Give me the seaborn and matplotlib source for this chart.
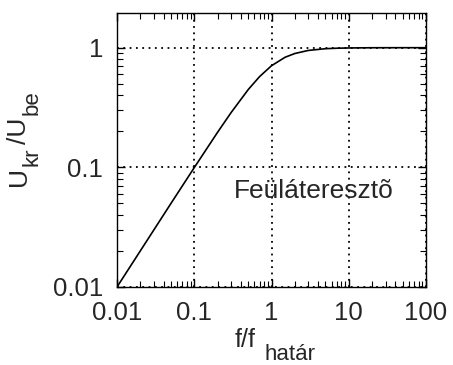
import pandas as pd
import matplotlib.pyplot as plt
import seaborn as sns
from matplotlib.ticker import LogLocator, NullFormatter, FixedLocator, FixedFormatter

sns.set_style("ticks")
plt.rcParams['font.family'] = ['Liberation Sans', 'DejaVu Sans']

# curve (f/f_hatar vs Uki/Ube)
freq_ratio = [0.01, 0.02, 0.05, 0.1, 0.2, 0.3, 0.5, 0.7, 1.0, 1.5, 2.0, 3.0, 5.0, 7.0, 10.0, 20.0, 50.0, 100.0]
gain = [0.01, 0.02, 0.05, 0.0995, 0.196, 0.287, 0.447, 0.573, 0.707, 0.832, 0.894, 0.949, 0.981, 0.99, 0.995, 0.999, 1.0, 1.0]

x_ticks = [0.01, 0.1, 1, 10, 100]
x_tick_labels = ['0.01', '0.1', '1', '10', '100']
y_ticks = [0.01, 0.1, 1]
y_tick_labels = ['0.01', '0.1', '1']

df = pd.DataFrame({'f': freq_ratio, 'U': gain})

W, H = 453, 365


def px(x, y):
    # pixel position -> figure fraction
    return x / W, 1 - y / H


fig, ax = plt.subplots(figsize=(4.53, 3.65), dpi=100)
fig.subplots_adjust(left=117 / W, right=426 / W, top=1 - 13 / H, bottom=1 - 287 / H)

sns.lineplot(data=df, x='f', y='U', color='black', linewidth=1.2, ax=ax)
ax.set_xscale('log')
ax.set_yscale('log')
ax.set_xlim(0.01, 100)
ax.set_ylim(0.01, 1.95)

ax.xaxis.set_major_locator(FixedLocator(x_ticks))
ax.xaxis.set_major_formatter(FixedFormatter(x_tick_labels))
ax.yaxis.set_major_locator(FixedLocator(y_ticks))
ax.yaxis.set_major_formatter(FixedFormatter(y_tick_labels))
ax.xaxis.set_minor_locator(LogLocator(base=10, subs=range(2, 10)))
ax.yaxis.set_minor_locator(LogLocator(base=10, subs=range(2, 10)))
ax.xaxis.set_minor_formatter(NullFormatter())
ax.yaxis.set_minor_formatter(NullFormatter())

ax.tick_params(which='both', direction='in', top=True, right=True, color='black')
ax.tick_params(which='major', length=6, width=1, labelsize=18.5, pad=10)
ax.tick_params(which='minor', length=4, width=0.8)
ax.set_xlabel('')
ax.set_ylabel('')
for s in ax.spines.values():
    s.set_linewidth(1.0)
    s.set_color('black')

ax.grid(True, which='major', color='black', linestyle=(0, (1, 2.5)), linewidth=1.3)

ax.text(0.33, 0.063, 'Feüláteresztõ', fontsize=19, va='center', ha='left')

# x label: f/f with subscript "határ"
fig.text(*px(235, 340), 'f/f', fontsize=18, ha='left', va='center')
fig.text(*px(265, 355), 'határ', fontsize=16, ha='left', va='center')

# y label: Ukr/Ube, rotated
fig.text(*px(19, 177), 'U', fontsize=19, rotation=90, ha='center', va='center')
fig.text(*px(32, 157), 'kr', fontsize=16, rotation=90, ha='center', va='center')
fig.text(*px(19, 131), '/U', fontsize=19, rotation=90, ha='center', va='center')
fig.text(*px(32, 103), 'be', fontsize=16, rotation=90, ha='center', va='center')

plt.savefig('out.png', dpi=100)
plt.close()
